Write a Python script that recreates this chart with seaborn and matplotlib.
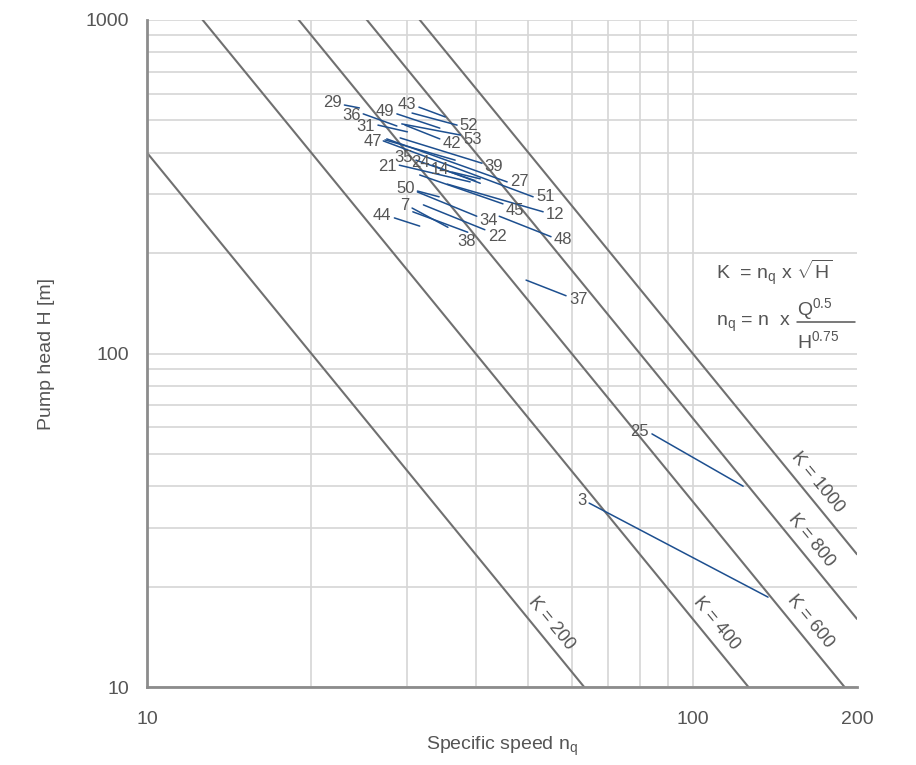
import matplotlib
matplotlib.use("Agg")
import matplotlib.pyplot as plt
import matplotlib.ticker as mticker
import numpy as np
import pandas as pd
import seaborn as sns

# reference lines K = nq * sqrt(H)
k_values = [200, 400, 600, 800, 1000]

# pump duty segments (label, start nq, start H, end nq, end H)
seg_labels = ["29", "36", "31", "49", "43", "52", "53", "42", "47", "39",
              "27", "51", "12", "45", "21", "35", "24", "14", "50", "34",
              "7", "22", "38", "44", "48", "37", "25", "3"]
seg_nq_start = [23.0, 24.9, 26.5, 28.7, 31.5, 30.6, 29.3, 29.7, 27.3, 29.1,
                27.5, 27.1, 35.5, 31.6, 29.0, 31.1, 33.3, 36.2, 31.3, 31.3,
                30.6, 32.1, 30.7, 28.4, 44.2, 49.5, 84.2, 64.6]
seg_h_start = [556, 523, 484, 523, 548, 526, 488, 484, 437, 443,
               440, 434, 322, 343, 367, 380, 367, 350, 307, 305,
               273, 279, 266, 255, 258, 166, 57.4, 35.6]
seg_nq_end = [24.5, 28.7, 30.0, 34.4, 35.2, 37.0, 37.5, 34.4, 36.7, 41.1,
              45.7, 51.0, 53.2, 44.9, 39.1, 39.9, 40.8, 40.8, 34.3, 40.2,
              35.6, 41.6, 38.7, 31.6, 55.0, 58.6, 123.7, 137.4]
seg_h_end = [545, 481, 462, 474, 512, 484, 452, 440, 380, 372,
             327, 295, 266, 281, 327, 330, 324, 334, 295, 258,
             239, 235, 231, 241, 224, 149, 40.0, 18.6]

# where the number sits relative to its segment (vertical nudge in points)
right_labels = {"52": 0, "53": -3, "42": -3, "39": -2, "27": 0, "51": 0,
                "12": -2, "34": -3, "22": -5, "48": -2, "37": -3, "45": -5}
below_labels = {"38"}
level_labels = {"36", "31", "21", "47"}
k_label_h = {200: 15.5, 400: 15.5, 600: 15.7, 800: 27.6, 1000: 41.2}

TEXT = "#555555"
BLUE = "#1d4f8f"
KGRAY = "#707070"
GRID = "#d6d6d6"

sns.set_theme(style="white")
plt.rcParams["font.family"] = ["Liberation Sans", "DejaVu Sans"]
plt.rcParams["mathtext.fontset"] = "custom"
plt.rcParams["mathtext.rm"] = "Liberation Sans"
plt.rcParams["mathtext.it"] = "Liberation Sans"

fig = plt.figure(figsize=(9.16, 7.65), dpi=100)
ax = fig.add_axes([147 / 916, 1 - 687 / 765, 710 / 916, 667 / 765])
ax.set_xscale("log")
ax.set_yscale("log")
ax.set_xlim(10, 200)
ax.set_ylim(10, 1000)

# grid: every 10 units in each decade, only up to 100 on x
ax.xaxis.set_major_locator(mticker.FixedLocator([10, 100, 200]))
ax.xaxis.set_minor_locator(mticker.FixedLocator([20, 30, 40, 50, 60, 70, 80, 90]))
ax.yaxis.set_major_locator(mticker.FixedLocator([10, 100, 1000]))
ax.yaxis.set_minor_locator(mticker.LogLocator(base=10, subs=np.arange(2, 10)))
ax.xaxis.set_major_formatter(mticker.FixedFormatter(["10", "100", "200"]))
ax.yaxis.set_major_formatter(mticker.FixedFormatter(["10", "100", "1000"]))
ax.yaxis.set_minor_formatter(mticker.NullFormatter())
ax.xaxis.set_minor_formatter(mticker.NullFormatter())
ax.grid(True, which="both", axis="y", color=GRID, lw=1.2)
ax.grid(True, which="minor", axis="x", color=GRID, lw=1.2)
ax.axvline(100, color=GRID, lw=1.2, zorder=0.5)
ax.set_axisbelow(True)

ax.tick_params(which="major", length=6, width=1, color="#bbbbbb",
               labelcolor=TEXT, labelsize=14)
ax.tick_params(axis="y", which="major", pad=7)
ax.tick_params(axis="x", which="major", pad=11)
ax.tick_params(which="minor", length=0)
for s in ["top", "right"]:
    ax.spines[s].set_visible(False)
for s in ["left", "bottom"]:
    ax.spines[s].set_color("#8c8c8c")
    ax.spines[s].set_linewidth(2)

# K lines
k_rows = []
for k in k_values:
    for nq in (10, 200):
        k_rows.append({"K": k, "nq": nq, "H": (k / nq) ** 2})
k_df = pd.DataFrame(k_rows)
sns.lineplot(data=k_df, x="nq", y="H", units="K", estimator=None,
             color=KGRAY, lw=1.5, ax=ax, legend=False)

# duty segments
seg_rows = []
for lab, x1, y1, x2, y2 in zip(seg_labels, seg_nq_start, seg_h_start,
                               seg_nq_end, seg_h_end):
    seg_rows.append({"id": lab, "nq": x1, "H": y1})
    seg_rows.append({"id": lab, "nq": x2, "H": y2})
seg_df = pd.DataFrame(seg_rows)
sns.lineplot(data=seg_df, x="nq", y="H", units="id", estimator=None, sort=False,
             color=BLUE, lw=1.1, ax=ax, legend=False)

for lab, x1, y1, x2, y2 in zip(seg_labels, seg_nq_start, seg_h_start,
                               seg_nq_end, seg_h_end):
    if lab in right_labels:
        ax.annotate(lab, (x2, y2), xytext=(2, right_labels[lab]),
                    textcoords="offset points", ha="left", va="center",
                    fontsize=12, color=TEXT)
    elif lab in below_labels:
        ax.annotate(lab, (x2, y2), xytext=(-1, -1), textcoords="offset points",
                    ha="center", va="top", fontsize=12, color=TEXT)
    else:
        dy = -1 if lab in level_labels else 2
        ax.annotate(lab, (x1, y1), xytext=(-2, dy), textcoords="offset points",
                    ha="right", va="center", fontsize=12, color=TEXT)

# K labels, rotated along the lines
p1 = ax.transData.transform((20, (1000 / 20) ** 2))
p2 = ax.transData.transform((100, (1000 / 100) ** 2))
angle = np.degrees(np.arctan2(p2[1] - p1[1], p2[0] - p1[0]))
for k in k_values:
    h = k_label_h[k]
    ax.annotate(f"K = {k}", (k / np.sqrt(h), h), xytext=(14, 0),
                textcoords="offset points", ha="center", va="center",
                rotation=angle, rotation_mode="anchor", fontsize=13, color=TEXT)

# formulas
ax.text(0.802, 0.621, r"K  = n$_\mathregular{q}$ x $\sqrt{\mathregular{H}}$",
        transform=ax.transAxes, fontsize=14, color=TEXT, va="center", ha="left")
ax.text(0.802, 0.545, r"n$_\mathregular{q}$ = n  x", transform=ax.transAxes,
        fontsize=14, color=TEXT, va="center", ha="left")
ax.text(0.916, 0.567, r"Q$^\mathregular{0.5}$", transform=ax.transAxes,
        fontsize=14, color=TEXT, va="center", ha="left")
ax.text(0.916, 0.519, r"H$^\mathregular{0.75}$", transform=ax.transAxes,
        fontsize=14, color=TEXT, va="center", ha="left")
ax.plot([0.915, 0.997], [0.5472, 0.5472], transform=ax.transAxes,
        color=TEXT, lw=1.1)

ax.set_xlabel(r"Specific speed n$_\mathregular{q}$", fontsize=14, color=TEXT,
              labelpad=5)
ax.set_ylabel("Pump head H [m]", fontsize=14, color=TEXT, labelpad=22)

fig.savefig("out.png", dpi=100)
